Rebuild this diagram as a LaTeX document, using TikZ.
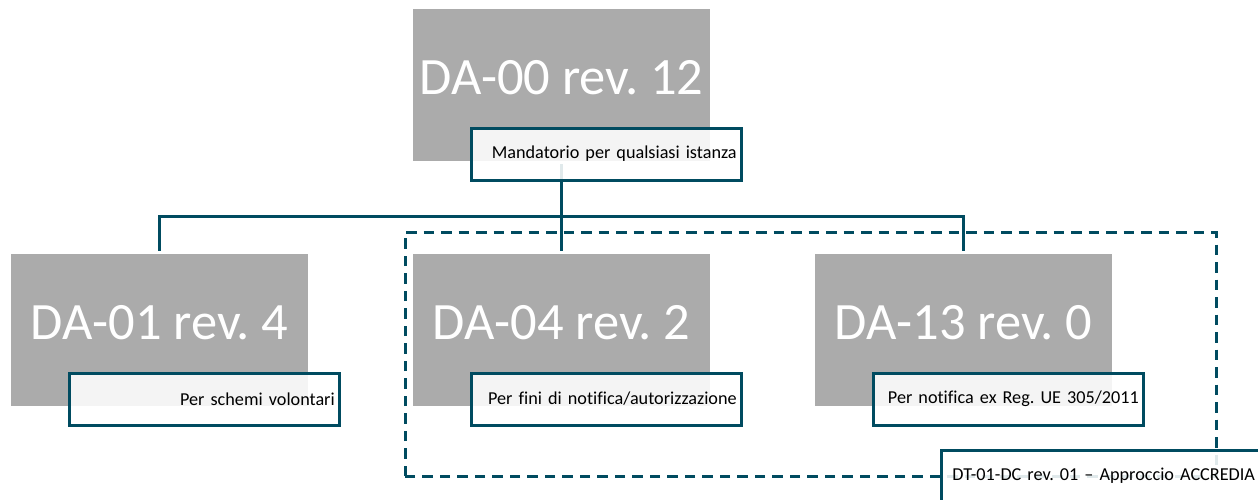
\documentclass[tikz,border=0pt]{standalone}
\usepackage{fontspec}
\setmainfont[Ligatures=NoCommon]{Carlito}
\definecolor{teal}{HTML}{004B60}
\definecolor{boxgray}{HTML}{ABABAB}
\tikzset{
  docbox/.style={fill=boxgray,text=white,minimum width=297pt,minimum height=152pt,inner sep=0pt,outer sep=0pt,font=\fontsize{52.5}{54}\selectfont},
  notebox/.style={draw=teal,line width=3pt,fill=white,fill opacity=.88,draw opacity=1,text opacity=1,text=black,minimum height=52pt,inner xsep=5pt,inner ysep=0pt,outer sep=0pt,text width=260.5pt,align=right,font=\fontsize{18.2}{22}\selectfont},
  link/.style={draw=teal,line width=3pt},
  scopeline/.style={draw=teal,line width=3pt,dash pattern=on 10.5pt off 7pt}
}
\newcommand{\biglabel}[1]{\raisebox{14.5pt}{#1}}
\begin{document}
\frenchspacing
\begin{tikzpicture}[x=1pt,y=-1pt]
\useasboundingbox (0,0) rectangle (1258,499);
\clip (0,0) rectangle (1258,499);
\coordinate (sw) at (405,476);
\coordinate (ne) at (1216,232);
\draw[scopeline] (sw) rectangle (ne);
\node[docbox] (da00) at (561.5,85) {\biglabel{DA-00 rev. 12}};
\node[docbox] (da01) at (159.5,330) {\biglabel{DA-01 rev. 4}};
\node[docbox] (da04) at (561.5,330) {\biglabel{DA-04 rev. 2}};
\node[docbox] (da13) at (963.5,330) {\biglabel{DA-13 rev. 0}};
\draw[link,shorten <=3pt,shorten >=3pt] (da00.south) -- (da04.north);
\coordinate (bus) at (561.5,216);
\draw[link,shorten >=3pt] (bus) -| (da01.north);
\draw[link,shorten >=3pt] (bus) -| (da13.north);
\node[notebox] (n00) at (606.5,154) {Mandatorio per qualsiasi istanza};
\node[notebox] (n01) at (204.5,399) {Per schemi volontari};
\node[notebox] (n04) at (606.5,399) {Per fini di notifica/autorizzazione};
\node[notebox] (n13) at (1008.5,399) {Per notifica ex Reg. UE 305/2011};
\node[notebox,text width=309pt] (ndt) at (1100.5,476) {DT-01-DC rev. 01 – Approccio ACCREDIA};
\end{tikzpicture}
\end{document}
